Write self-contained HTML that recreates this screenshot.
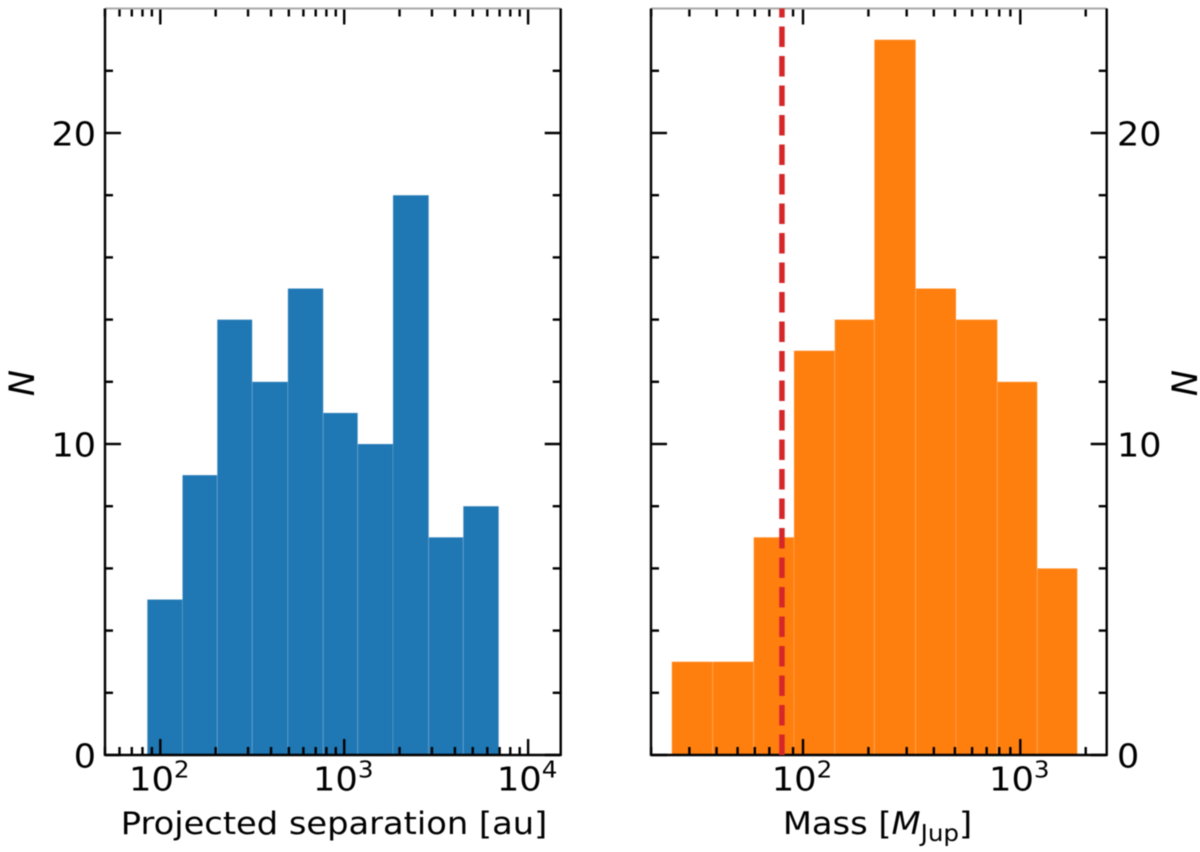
<!DOCTYPE html>
<html lang="en">
<head>
<meta charset="utf-8">
<title>Projected separation and mass histograms</title>
<style>
html,body{margin:0;padding:0;background:#fff;width:1200px;height:852px;overflow:hidden}
svg{display:block;filter:blur(0.4px)}
text{font-family:"DejaVu Sans","Liberation Sans",sans-serif;fill:#000}
</style>
</head>
<body>
<svg id="chart" xmlns="http://www.w3.org/2000/svg" width="1200" height="852" viewBox="0 0 1200 852"></svg>
<script>
// Chart data
const separationEdges = [85, 132, 204, 316, 494, 769, 1184, 1842, 2880, 4442, 6918];
const separationCounts = [5, 9, 14, 12, 15, 11, 10, 18, 7, 8];
const massEdges = [24.9, 38.4, 59.3, 90.9, 140, 213, 330, 506, 784, 1197, 1830];
const massCounts = [3, 3, 7, 13, 14, 23, 15, 14, 12, 6];
const massLimit = 80;
const yMajorTicks = [0, 10, 20];
const yMinorTicks = [2, 4, 6, 8, 12, 14, 16, 18, 22];
const separationMajorTicks = [100, 1000, 10000];
const separationMinorTicks = [50, 60, 70, 80, 90, 200, 300, 400, 500, 600, 700, 800, 900, 2000, 3000, 4000, 5000, 6000, 7000, 8000, 9000];
const massMajorTicks = [100, 1000];
const massMinorTicks = [20, 30, 40, 50, 60, 70, 80, 90, 200, 300, 400, 500, 600, 700, 800, 900, 2000];

const NS = 'http://www.w3.org/2000/svg';
const svg = document.getElementById('chart');
const axisTop = 8.5, axisBottom = 755;
const yScale = v => axisBottom - v * 31.1;
const scaleLeft = v => 160.3 + (Math.log10(v) - 2) * 183.9;
const scaleRight = v => 803 + (Math.log10(v) - 2) * 217.3;

function el(tag, attrs, parent) {
  const e = document.createElementNS(NS, tag);
  for (const k in attrs) e.setAttribute(k, attrs[k]);
  (parent || svg).appendChild(e);
  return e;
}

function drawBars(parent, edges, counts, xScale, color, name) {
  counts.forEach((c, i) => {
    const x0 = xScale(edges[i]), x1 = xScale(edges[i + 1]);
    const r = el('rect', {x: x0, y: yScale(c), width: x1 - x0, height: axisBottom - yScale(c), fill: color, stroke: '#fff', 'stroke-opacity': 0.15, 'stroke-width': 1}, parent);
    
    
  });
}

function drawTicks(parent, x0, x1, xScale, xMajor, xMinor) {
  const line = (a, b, c, d) => el('line', {x1: a, y1: b, x2: c, y2: d, stroke: '#000', 'stroke-width': 2.4}, parent);
  xMajor.forEach(v => { const x = xScale(v); line(x, axisBottom, x, axisBottom - 16); line(x, axisTop, x, axisTop + 16); });
  xMinor.forEach(v => { const x = xScale(v); line(x, axisBottom, x, axisBottom - 8); line(x, axisTop, x, axisTop + 8); });
  yMajorTicks.forEach(v => { const y = yScale(v); line(x0, y, x0 + 16, y); line(x1, y, x1 - 16, y); });
  yMinorTicks.forEach(v => { const y = yScale(v); line(x0, y, x0 + 8, y); line(x1, y, x1 - 8, y); });
}

function drawSpines(parent, x0, x1) {
  el('line', {x1: x0, y1: axisTop, x2: x1, y2: axisTop, stroke: '#aaa', 'stroke-width': 2}, parent);
  el('line', {x1: x0, y1: axisTop, x2: x0, y2: axisBottom + 1, stroke: '#000', 'stroke-width': 2.4}, parent);
  el('line', {x1: x1, y1: axisTop, x2: x1, y2: axisBottom + 1, stroke: '#000', 'stroke-width': 2.4}, parent);
  el('line', {x1: x0, y1: axisBottom, x2: x1, y2: axisBottom, stroke: '#000', 'stroke-width': 2.4}, parent);
}

function drawXLabels(parent, ticks, xScale) {
  ticks.forEach(v => {
    const t = el('text', {x: 0, y: 0, transform: 'translate(' + (xScale(v) - 1) + ',790.5) scale(1.07,1)', 'text-anchor': 'middle', 'font-size': 33}, parent);
    
    
    t.appendChild(document.createTextNode('10'));
    const s = el('tspan', {dy: -13, 'font-size': 23}, t);
    s.textContent = String(Math.round(Math.log10(v)));
  });
}

function drawYLabels(parent, x, anchor) {
  yMajorTicks.forEach(v => {
    const t = el('text', {x: 0, y: 0, transform: 'translate(' + x + ',' + (yScale(v) + 12.5) + ') scale(1.06,1)', 'text-anchor': anchor, 'font-size': 33}, parent);
    
    
    t.textContent = String(v);
  });
}

function yTitle(parent, x) {
  const t = el('text', {x: 0, y: 0, transform: 'translate(' + x + ',383) rotate(-90)', 'text-anchor': 'middle', 'font-size': 35, 'font-style': 'italic'}, parent);
  
  
  t.textContent = 'N';
}

// Left panel
const leftPanel = el('g', {});


drawBars(leftPanel, separationEdges, separationCounts, scaleLeft, '#1f77b4', 'separation');
drawTicks(leftPanel, 105, 560.7, scaleLeft, separationMajorTicks, separationMinorTicks);
drawSpines(leftPanel, 105, 560.7);
drawXLabels(leftPanel, separationMajorTicks, scaleLeft);
drawYLabels(leftPanel, 96, 'end');
yTitle(leftPanel, 34);
const leftTitle = el('text', {x: 0, y: 0, transform: 'translate(334,834) scale(1.07,1)', 'text-anchor': 'middle', 'font-size': 31.5}, leftPanel);


leftTitle.textContent = 'Projected separation [au]';

// Right panel
const rightPanel = el('g', {});


drawBars(rightPanel, massEdges, massCounts, scaleRight, '#ff7f0e', 'mass');
drawTicks(rightPanel, 651, 1106.7, scaleRight, massMajorTicks, massMinorTicks);
drawSpines(rightPanel, 651, 1106.7);
const limitLine = el('line', {x1: scaleRight(massLimit), y1: axisBottom, x2: scaleRight(massLimit), y2: axisTop, stroke: '#d62728', 'stroke-width': 5.5, 'stroke-dasharray': '20.5 9'}, rightPanel);


drawXLabels(rightPanel, massMajorTicks, scaleRight);
drawYLabels(rightPanel, 1117, 'start');
yTitle(rightPanel, 1197);
const rightTitle = el('text', {x: 0, y: 0, transform: 'translate(877.5,834) scale(1.07,1)', 'text-anchor': 'middle', 'font-size': 31.5}, rightPanel);


rightTitle.appendChild(document.createTextNode('Mass ['));
const massSymbol = el('tspan', {'font-style': 'italic'}, rightTitle);
massSymbol.textContent = 'M';
const massSub = el('tspan', {dy: 7, 'font-size': 23}, rightTitle);
massSub.textContent = 'Jup';
const massClose = el('tspan', {dy: -7}, rightTitle);
massClose.textContent = ']';
</script>
</body>
</html>
